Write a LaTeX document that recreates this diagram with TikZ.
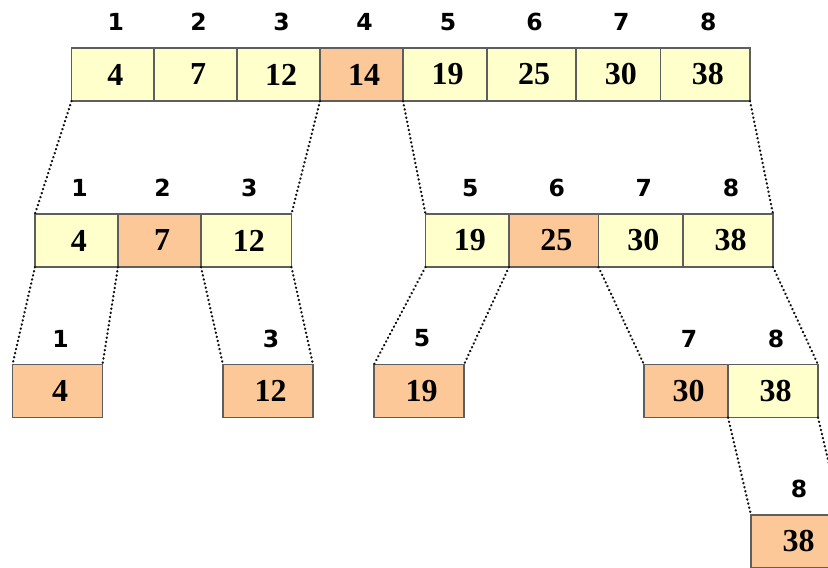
\documentclass[tikz,border=0pt]{standalone}
\usepackage{fontspec}
\setmainfont{Liberation Serif}
\newfontfamily\idxfont{DejaVu Sans}
\usetikzlibrary{calc}

\definecolor{cellyellow}{HTML}{FFFFCC}
\definecolor{cellorange}{HTML}{FCC898}
\definecolor{cellborder}{HTML}{5E5E5E}
\definecolor{dotink}{HTML}{111111}

\tikzset{
  cellbox/.style={draw=cellborder, line width=1.2pt, anchor=north west,
    minimum height=53pt, inner sep=0pt, outer sep=0pt,
    font=\fontsize{32}{32}\selectfont\bfseries,
    execute at begin node={\hskip5pt}},
  plain/.style={cellbox, fill=cellyellow},
  pivot/.style={cellbox, fill=cellorange},
  idxlabel/.style={font=\idxfont\fontsize{23.5}{23.5}\selectfont\bfseries, inner sep=0pt},
  guide/.style={draw=dotink, line width=2.3pt, line cap=round, dash pattern=on 0.4pt off 3.8pt}
}

\begin{document}
\begin{tikzpicture}[x=1pt, y=-1pt]
\clip (0,0) rectangle (828,568);
\fill[white] (0,0) rectangle (828,568);

% top level: whole array
\node[plain, minimum width=82.5pt] (t1) at (71.5,48) {4};
\node[plain, minimum width=83pt]   (t2) at (154,48) {7};
\node[plain, minimum width=83pt]   (t3) at (237,48) {12};
\node[pivot, minimum width=83pt]   (t4) at (320,48) {14};
\node[plain, minimum width=84pt]   (t5) at (403,48) {19};
\node[plain, minimum width=89pt]   (t6) at (487,48) {25};
\node[plain, minimum width=84.5pt] (t7) at (576,48) {30};
\node[plain, minimum width=89.5pt] (t8) at (660.5,48) {38};

% second level
\node[plain, minimum width=83pt]   (l1) at (35,214) {4};
\node[pivot, minimum width=83pt]   (l2) at (118,214) {7};
\node[plain, minimum width=90.5pt] (l3) at (201,214) {12};

\node[plain, minimum width=83.5pt] (r5) at (425.5,214) {19};
\node[pivot, minimum width=89.5pt] (r6) at (509,214) {25};
\node[plain, minimum width=84.5pt] (r7) at (598.5,214) {30};
\node[plain, minimum width=90pt]   (r8) at (683,214) {38};

% third level
\node[pivot, minimum width=90pt] (a1) at (12.5,364.5) {4};
\node[pivot, minimum width=90pt] (a3) at (223,364.5) {12};
\node[pivot, minimum width=90pt] (b5) at (374,364.5) {19};
\node[pivot, minimum width=84pt] (c7) at (644,364.5) {30};
\node[plain, minimum width=90pt] (c8) at (728,364.5) {38};

% fourth level
\node[pivot, minimum width=90pt] (d8) at (751,515) {38};

% index labels above the cells
\foreach \c/\n in {t1/1,t2/2,t3/3,t4/4,t5/5,t6/6,t7/7,t8/8,
                   l1/1,l2/2,l3/3,r5/5,r6/6,r7/7,r8/8,
                   a1/1,a3/3,b5/5,c7/7,c8/8,d8/8}
  \node[idxlabel] (\c-idx) at ($(\c.north)+(3,-26)$) {\n};

% dotted guides between levels
\draw[guide] (t1.south west) -- (l1.north west);
\draw[guide] (t4.south west) -- (l3.north east);
\draw[guide] (t5.south west) -- (r5.north west);
\draw[guide] (t8.south east) -- (r8.north east);

\draw[guide] (l1.south west) -- (a1.north west);
\draw[guide] (l2.south west) -- (a1.north east);
\draw[guide] (l3.south west) -- (a3.north west);
\draw[guide] (l3.south east) -- (a3.north east);

\draw[guide] (r5.south west) -- (b5.north west);
\draw[guide] (r6.south west) -- (b5.north east);
\draw[guide] (r7.south west) -- (c7.north west);
\draw[guide] (r8.south east) -- (c8.north east);

\draw[guide] (c8.south west) -- (d8.north west);
\draw[guide] (c8.south east) -- (d8.north east);
\end{tikzpicture}
\end{document}
